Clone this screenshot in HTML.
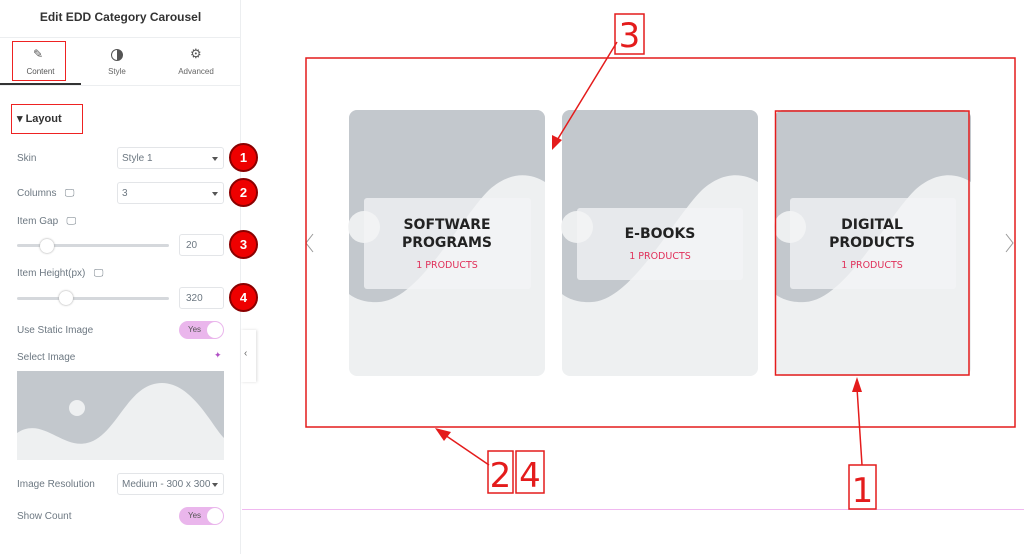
<!DOCTYPE html>
<html><head><meta charset="utf-8"><style>
*{margin:0;padding:0;box-sizing:border-box}
body{width:1024px;height:554px;overflow:hidden;background:#fff;font-family:"Liberation Sans",sans-serif;position:relative}
.a{position:absolute}
.lbl{position:absolute;left:17px;font-size:10px;color:#6d7882}
.sel{position:absolute;left:117px;width:107px;height:22px;border:1px solid #e3e5e8;border-radius:3px;font-size:10px;color:#6d7882;padding:5px 0 0 4px;background:#fff}
.sel:after{content:"";position:absolute;right:5px;top:9px;border:3.5px solid transparent;border-top:4px solid #555}
.badge{position:absolute;left:229px;width:29px;height:29px;border-radius:50%;background:#e00;border:2px solid #8a0000;color:#fff;font-weight:bold;font-size:13px;text-align:center;line-height:25px}
.inp{position:absolute;left:179px;width:45px;height:22px;border:1px solid #e3e5e8;border-radius:3px;font-size:10px;color:#6d7882;padding:5px 0 0 6px}
.track{position:absolute;left:17px;width:152px;height:3px;background:#d5d8dc;border-radius:2px}
.knob{position:absolute;width:14px;height:14px;border-radius:50%;background:#fff;box-shadow:0 0 2px #999}
.tog{position:absolute;left:179px;width:45px;height:18px;border-radius:9px;background:#eab6ec;font-size:8px;color:#555;padding:4px 0 0 9px}
.tog:after{content:"";position:absolute;right:1px;top:1px;width:16px;height:16px;border-radius:50%;background:#fff}
</style></head><body>
<div class="a" style="left:0;top:0;width:241px;height:554px;background:#fff;border-right:1px solid #eceef0"></div>
<div class="a" style="left:0;top:10px;width:241px;text-align:center;font-weight:bold;font-size:12px;color:#333">Edit EDD Category Carousel</div>
<div class="a" style="left:0;top:37px;width:241px;border-top:1px solid #eceef0"></div>
<div class="a" style="left:0;top:85px;width:241px;border-top:1px solid #eceef0"></div>
<div class="a" style="left:0;top:83px;width:81px;height:2px;background:#333"></div>
<div class="a" style="left:12px;top:41px;width:54px;height:40px;border:1.5px solid #e22"></div>
<div class="a" style="left:33px;top:47px;font-size:12px;color:#555">✎</div>
<div class="a" style="left:0;top:67px;width:81px;text-align:center;font-size:8px;color:#555">Content</div>
<div class="a" style="left:111px;top:49px;width:12px;height:12px;border-radius:50%;border:1.5px solid #555;background:linear-gradient(90deg,#fff 50%,#555 50%)"></div>
<div class="a" style="left:81px;top:67px;width:72px;text-align:center;font-size:8px;color:#666">Style</div>
<div class="a" style="left:190px;top:46px;font-size:13px;color:#555">⚙</div>
<div class="a" style="left:160px;top:67px;width:72px;text-align:center;font-size:8px;color:#666">Advanced</div>
<div class="a" style="left:11px;top:104px;width:72px;height:30px;border:1.5px solid #e22"></div>
<div class="a" style="left:17px;top:112px;font-size:11px;font-weight:bold;color:#333">▾ Layout</div>
<div class="lbl" style="top:153px">Skin</div><div class="sel" style="top:147px">Style 1</div><div class="badge" style="top:143px">1</div>
<div class="lbl" style="top:188px">Columns &nbsp;&nbsp;🖵</div><div class="sel" style="top:182px">3</div><div class="badge" style="top:178px">2</div>
<div class="lbl" style="top:216px">Item Gap &nbsp;&nbsp;🖵</div>
<div class="track" style="top:244px"></div><div class="knob" style="left:40px;top:239px"></div>
<div class="inp" style="top:234px">20</div><div class="badge" style="top:230px">3</div>
<div class="lbl" style="top:268px">Item Height(px) &nbsp;&nbsp;🖵</div>
<div class="track" style="top:297px"></div><div class="knob" style="left:59px;top:291px"></div>
<div class="inp" style="top:287px">320</div><div class="badge" style="top:283px">4</div>
<div class="lbl" style="top:325px">Use Static Image</div><div class="tog" style="top:321px">Yes</div>
<div class="lbl" style="top:352px">Select Image</div><div class="a" style="left:214px;top:350px;font-size:9px;color:#b04fc4">✦</div>
<svg class="a" style="left:17px;top:371px" width="207" height="89" viewBox="0 0 207 89"><rect width="207" height="89" fill="#c3c8cd"/><path d="M0 62 C25 45 45 78 70 72 C100 65 110 12 145 12 C175 12 195 55 207 67 L207 89 L0 89Z" fill="#eef0f1"/><circle cx="60" cy="37" r="8" fill="#eef0f1"/></svg>
<div class="lbl" style="top:479px">Image Resolution</div><div class="sel" style="top:473px;white-space:nowrap;overflow:hidden">Medium - 300 x 300</div>
<div class="lbl" style="top:511px">Show Count</div><div class="tog" style="top:507px">Yes</div>
<div class="a" style="left:241px;top:330px;width:15px;height:52px;background:#fff;box-shadow:1px 0 3px #ddd;font-size:10px;color:#666;padding:18px 0 0 3px">‹</div>
<div class="a" style="left:242px;top:509px;width:782px;border-top:1px solid #f0b8f0"></div>
<svg class="a" style="left:0;top:0" width="1024" height="554">
<defs><g id="card"><rect width="196" height="266" rx="8" fill="#eef0f1"/><path d="M8 0 H188 A8 8 0 0 1 196 8 V72 C180 62 160 62 140 80 C110 110 70 190 30 192 C15 193 5 188 0 184 V8 A8 8 0 0 1 8 0Z" fill="#c3c8cd"/><circle cx="15" cy="117" r="16" fill="#f2f3f4" opacity="0.9"/></g></defs>
<use href="#card" x="349" y="110"/><use href="#card" x="562" y="110"/><use href="#card" x="775" y="110"/>
<rect x="364" y="198" width="167" height="91" rx="3" fill="#f3f4f5" opacity="0.75"/>
<rect x="577" y="208" width="166" height="72" rx="3" fill="#f3f4f5" opacity="0.75"/>
<rect x="790" y="198" width="166" height="91" rx="3" fill="#f3f4f5" opacity="0.75"/>
<g font-family="DejaVu Sans,sans-serif" font-weight="bold" font-size="14" fill="#222" text-anchor="middle">
<text x="447" y="229">SOFTWARE</text><text x="447" y="247">PROGRAMS</text>
<text x="660" y="238">E-BOOKS</text>
<text x="872" y="229">DIGITAL</text><text x="872" y="247">PRODUCTS</text></g>
<g font-family="DejaVu Sans,sans-serif" font-size="9.5" fill="#e0305a" text-anchor="middle">
<text x="447" y="268">1 PRODUCTS</text><text x="660" y="259">1 PRODUCTS</text><text x="872" y="268">1 PRODUCTS</text></g>
<path d="M313 234 L306 243 L313 252 M1006 234 L1013 243 L1006 252" stroke="#999" fill="none"/>
<g stroke="#e41c1c" fill="none" stroke-width="1.5">
<rect x="306" y="58" width="709" height="369"/>
<rect x="775.5" y="111" width="193.5" height="264"/>
<rect x="615" y="14" width="29" height="40"/>
<rect x="488" y="451" width="25" height="42"/><rect x="516" y="451" width="28" height="42"/>
<rect x="849" y="465" width="27" height="44"/>
<path d="M617 42 L556 142 M489 465 L442 433 M862 465 L857 388"/></g>
<g fill="#e41c1c"><path d="M552 150 L552 135 L562 140Z"/><path d="M435 428 L451 432 L444 441Z"/><path d="M857 377 L852 392 L862 392Z"/></g>
<g font-family="DejaVu Sans,sans-serif" font-size="34" fill="#e41c1c" text-anchor="middle">
<text x="629.5" y="47">3</text><text x="500.5" y="487">2</text><text x="530" y="487">4</text><text x="862.5" y="502">1</text></g>
</svg>
</body></html>
